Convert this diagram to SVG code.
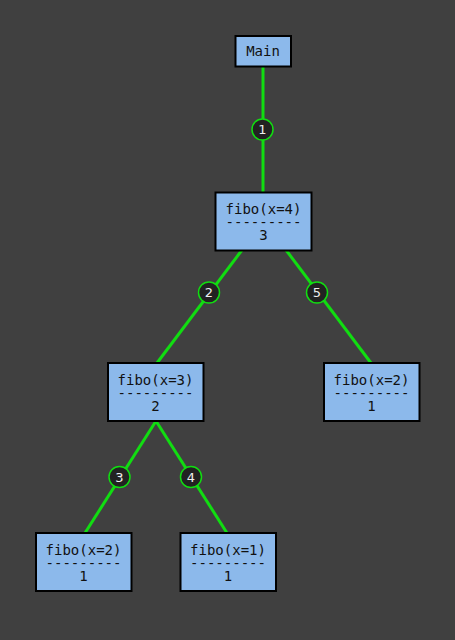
<svg xmlns="http://www.w3.org/2000/svg" width="455" height="640" viewBox="0 0 455 640">
<style>
.box{fill:#8cb9eb;stroke:#000;stroke-width:2}
.t{font-family:"DejaVu Sans Mono","Liberation Mono",monospace;font-size:14px;fill:#111;text-anchor:middle}
.e{stroke:#11dd11;stroke-width:3;fill:none}
.c{fill:#222;stroke:#11dd11;stroke-width:1.5}
.n{font-family:"DejaVu Sans","Liberation Sans",sans-serif;font-size:13px;fill:#eee;text-anchor:middle}
</style>
<rect width="455" height="640" fill="#404040"/>
<g id="connectors">
<line class="e" x1="263" y1="67" x2="263" y2="192"/>
<line class="e" x1="242" y1="250" x2="157" y2="363"/>
<line class="e" x1="286" y1="250" x2="371" y2="363"/>
<line class="e" x1="156" y1="421" x2="85" y2="533"/>
<line class="e" x1="156" y1="421" x2="227" y2="533"/>
<g id="label1"><circle class="c" cx="262.5" cy="129.5" r="10.5"/><text class="n" x="262.5" y="134">1</text></g>
<g id="label2"><circle class="c" cx="209" cy="292.5" r="10.5"/><text class="n" x="209" y="297">2</text></g>
<g id="label5"><circle class="c" cx="317" cy="292.5" r="10.5"/><text class="n" x="317" y="297">5</text></g>
<g id="label3"><circle class="c" cx="119.5" cy="477" r="10.5"/><text class="n" x="119.5" y="481.5">3</text></g>
<g id="label4"><circle class="c" cx="191" cy="477" r="10.5"/><text class="n" x="191" y="481.5">4</text></g>
</g>
<g id="main"><rect class="box" x="235.5" y="36" width="55.5" height="30.5"/><text class="t" x="263" y="56">Main</text></g>
<g id="fibo4"><rect class="box" x="215.5" y="192.5" width="96" height="58"/><text class="t" x="263.5" y="214">fibo(x=4)</text><text class="t" x="263.5" y="227">---------</text><text class="t" x="263.5" y="240">3</text></g>
<g id="fibo3"><rect class="box" x="108" y="363" width="95.5" height="58"/><text class="t" x="155.5" y="384.5">fibo(x=3)</text><text class="t" x="155.5" y="397.5">---------</text><text class="t" x="155.5" y="410.5">2</text></g>
<g id="fibo2r"><rect class="box" x="324" y="363" width="95.5" height="58"/><text class="t" x="371.5" y="384.5">fibo(x=2)</text><text class="t" x="371.5" y="397.5">---------</text><text class="t" x="371.5" y="410.5">1</text></g>
<g id="fibo2l"><rect class="box" x="36" y="533" width="95.5" height="58"/><text class="t" x="83.5" y="554.5">fibo(x=2)</text><text class="t" x="83.5" y="567.5">---------</text><text class="t" x="83.5" y="580.5">1</text></g>
<g id="fibo1"><rect class="box" x="180.5" y="533" width="95.5" height="58"/><text class="t" x="228" y="554.5">fibo(x=1)</text><text class="t" x="228" y="567.5">---------</text><text class="t" x="228" y="580.5">1</text></g>
</svg>
